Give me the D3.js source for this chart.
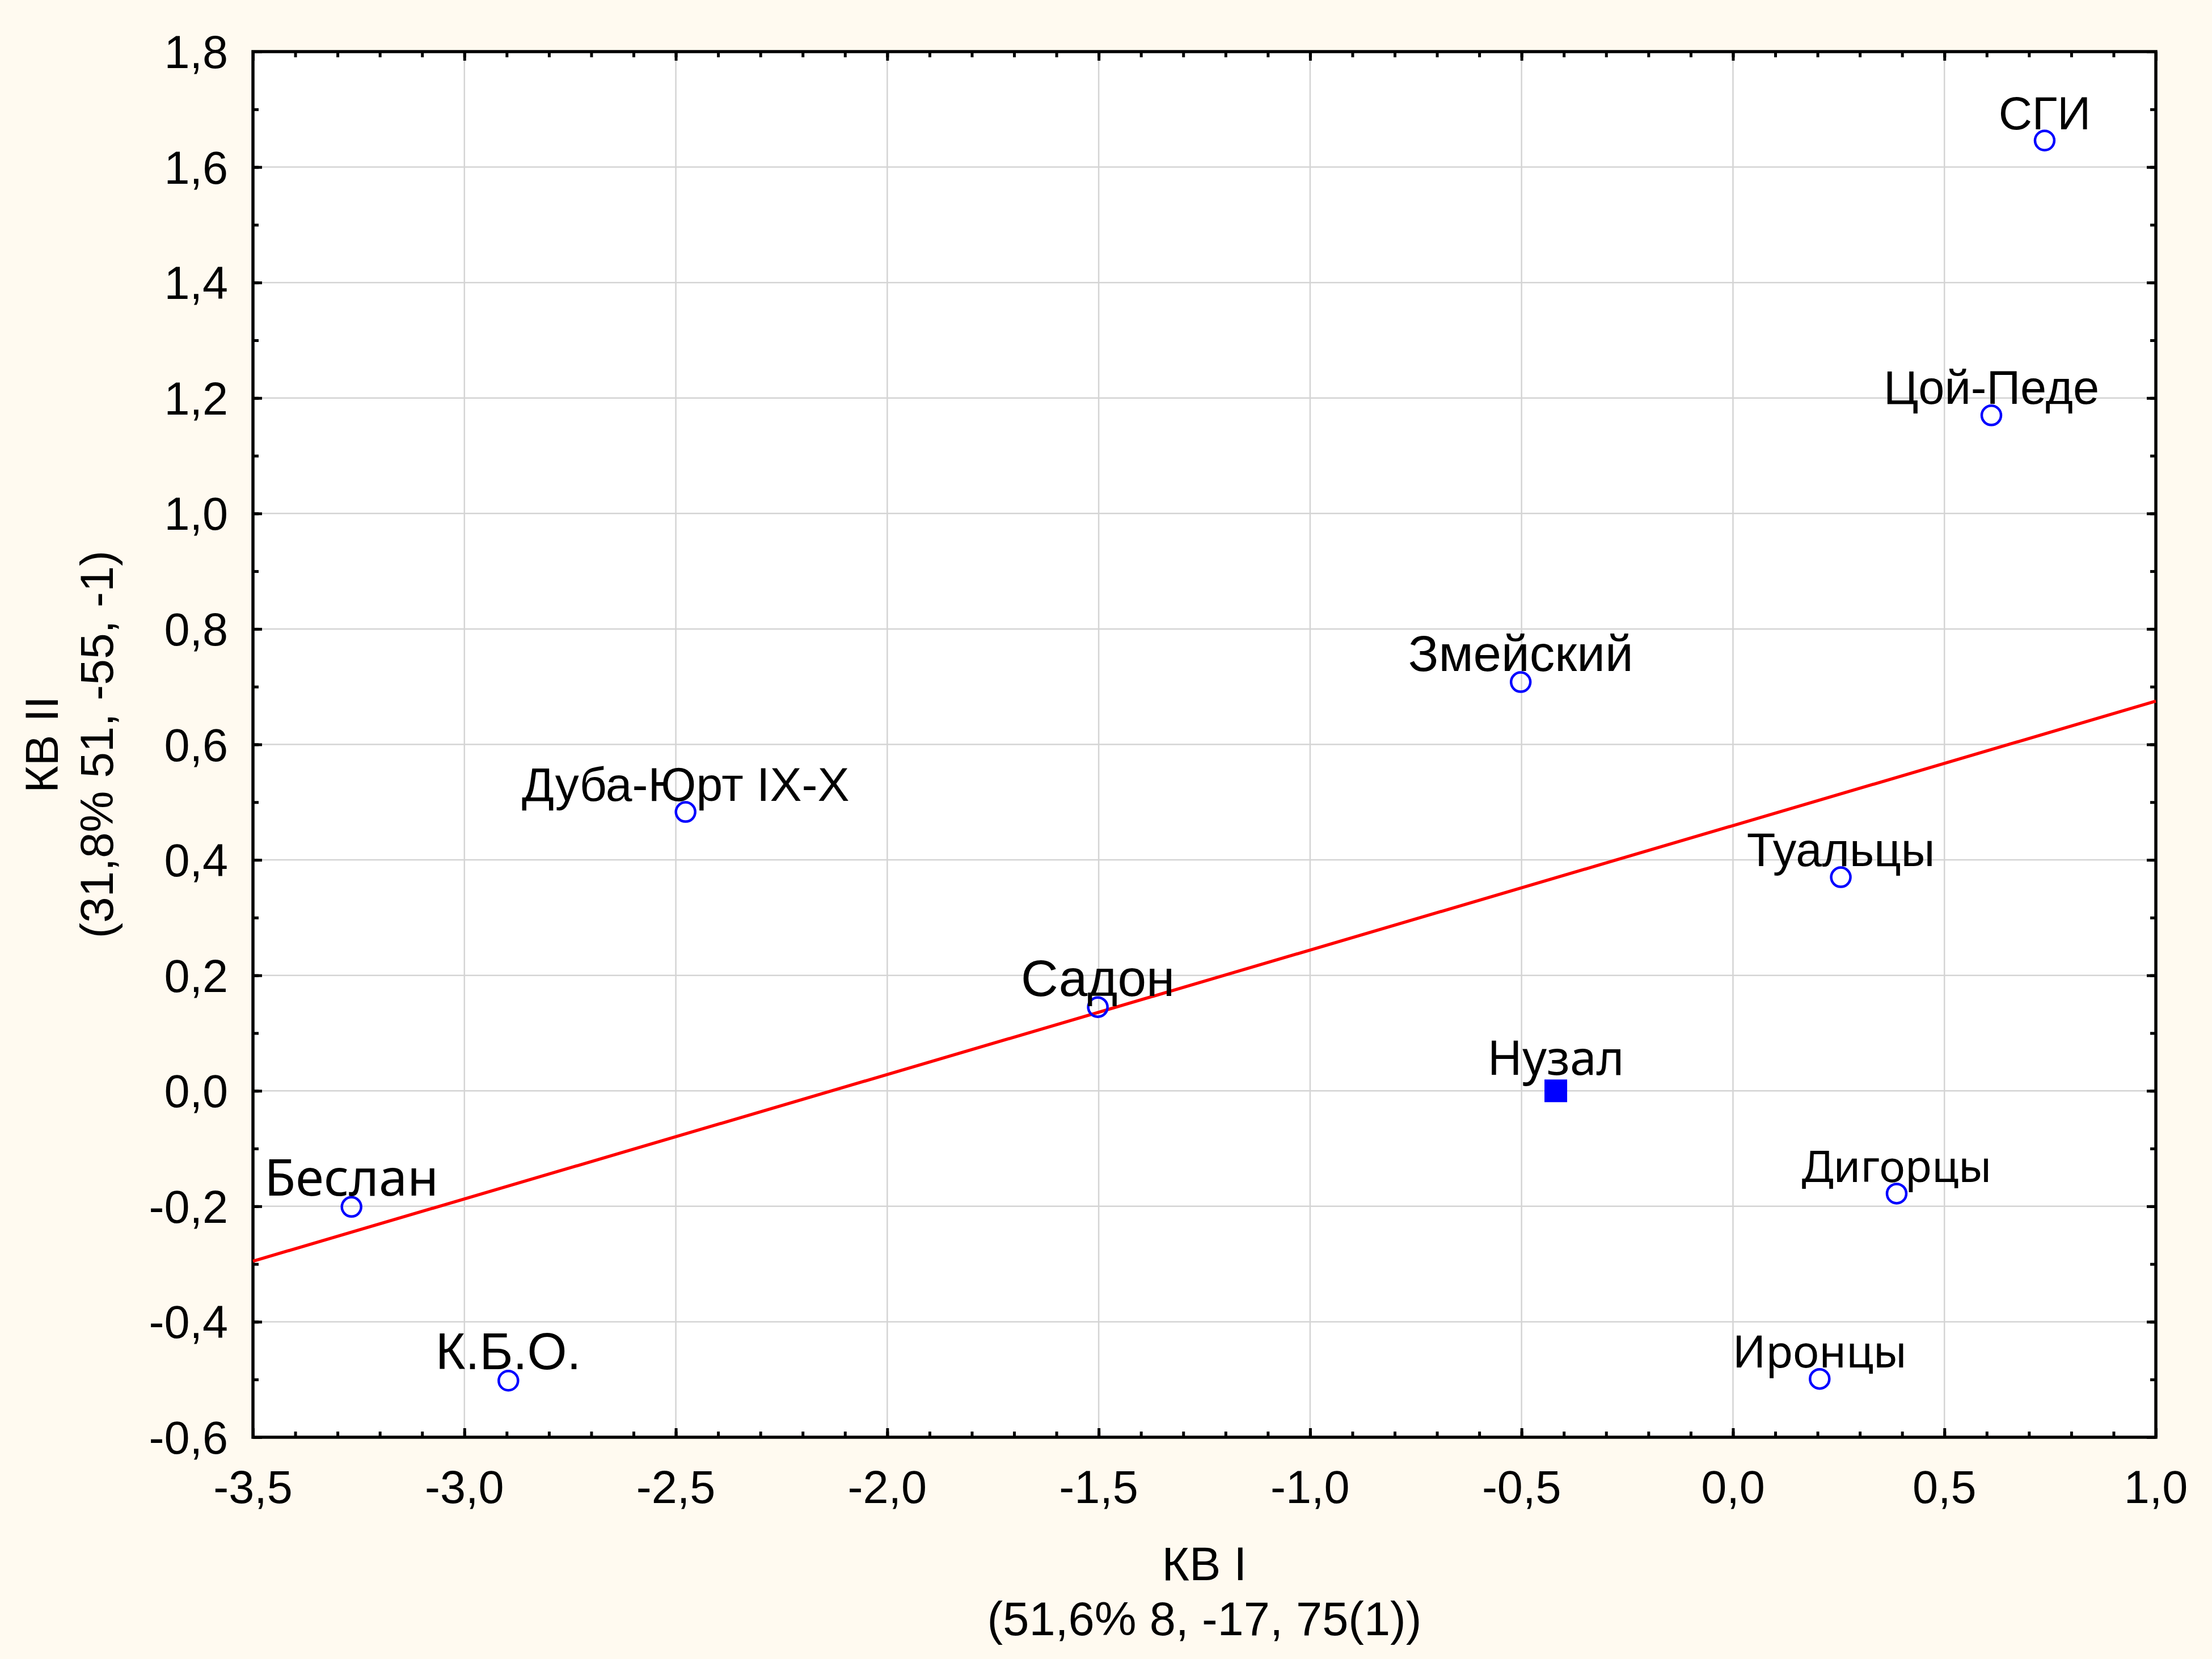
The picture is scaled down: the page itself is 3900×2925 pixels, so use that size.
<!DOCTYPE html>
<html>
<head>
<meta charset="utf-8">
<script src="https://cdn.jsdelivr.net/npm/d3@7"></script>
<style>
  body { margin: 0; background: #fffaf0; }
  svg { display: block; }
</style>
</head>
<body>
<div id="chart"></div>
<script>
// points of the canonical plot
const names = ["СГИ", "Цой-Педе", "Змейский", "Дуба-Юрт IX-X", "Туальцы", "Садон",
               "Нузал", "Беслан", "Дигорцы", "К.Б.О.", "Иронцы"];
const kv1 = [0.737, 0.611, -0.502, -2.477, 0.255, -1.502, -0.419, -3.267, 0.387, -2.896, 0.205];
const kv2 = [1.646, 1.170, 0.708, 0.483, 0.370, 0.145, 0.000, -0.201, -0.178, -0.502, -0.499];
const markers = ["circle", "circle", "circle", "circle", "circle", "circle",
                 "square", "circle", "circle", "circle", "circle"];

// fitted line, read at both ends of the x range
const lineX = [-3.5, 1.0];
const lineY = [-0.295, 0.675];

const xTicks = [-3.5, -3.0, -2.5, -2.0, -1.5, -1.0, -0.5, 0.0, 0.5, 1.0];
const yTicks = [-0.6, -0.4, -0.2, 0.0, 0.2, 0.4, 0.6, 0.8, 1.0, 1.2, 1.4, 1.6, 1.8];
const xTitle = ["КВ I", "(51,6% 8, -17, 75(1))"];
const yTitle = ["КВ II", "(31,8% 51, -55, -1)"];

const W = 3900, H = 2925;
const margin = {top: 91, right: 99, bottom: 391, left: 446};
const pw = W - margin.left - margin.right;
const ph = H - margin.top - margin.bottom;

const arial = "'Liberation Sans', Arial, sans-serif";
const segoe = "'Noto Sans', 'Open Sans', sans-serif";
// the labels in the original were typed in by hand, with mixed faces and sizes
const labelStyle = {
    "СГИ": [arial, 82],
    "Цой-Педе": [arial, 83],
    "Змейский": [arial, 89],
    "Дуба-Юрт IX-X": [arial, 84],
    "Туальцы": [arial, 83],
    "Садон": [arial, 91],
    "Нузал": [segoe, 84],
    "Беслан": [segoe, 90],
    "Дигорцы": [segoe, 77],
    "К.Б.О.": [arial, 90],
    "Иронцы": [segoe, 78]
};

const svg = d3.select("#chart").append("svg")
    .attr("width", W)
    .attr("height", H);

svg.append("rect").attr("width", W).attr("height", H).attr("fill", "#fffaf0");

const g = svg.append("g")
    .attr("transform", "translate(" + margin.left + "," + margin.top + ")");

const x = d3.scaleLinear().domain([xTicks[0], xTicks[xTicks.length - 1]]).range([0, pw]);
const y = d3.scaleLinear().domain([yTicks[0], yTicks[yTicks.length - 1]]).range([ph, 0]);

g.append("rect").attr("width", pw).attr("height", ph).attr("fill", "#ffffff");

const fmt = v => (Math.round(v * 10) / 10).toFixed(1).replace(".", ",");

// grid
g.append("g").selectAll("line")
    .data(xTicks.slice(1, -1))
    .enter().append("line")
    .attr("x1", d => x(d)).attr("x2", d => x(d))
    .attr("y1", 0).attr("y2", ph)
    .attr("stroke", "#d4d4d4").attr("stroke-width", 2.5);
g.append("g").selectAll("line")
    .data(yTicks.slice(1, -1))
    .enter().append("line")
    .attr("x1", 0).attr("x2", pw)
    .attr("y1", d => y(d)).attr("y2", d => y(d))
    .attr("stroke", "#d4d4d4").attr("stroke-width", 2.5);

// minor tick positions (every 0.1)
const xMinor = d3.range(Math.round(xTicks[0] * 10), Math.round(xTicks[xTicks.length - 1] * 10) + 1)
    .map(d => d / 10);
const yMinor = d3.range(Math.round(yTicks[0] * 10), Math.round(yTicks[yTicks.length - 1] * 10) + 1)
    .map(d => d / 10);

function styleAxis(sel) {
    sel.select(".domain").remove();
    sel.selectAll(".tick line").attr("stroke", "#000").attr("stroke-width", 5);
}

// ticks on all four sides, pointing inward
const majorLen = 16, minorLen = 10;
[["bottom", ph], ["top", 0]].forEach(([side, ty]) => {
    const mk = side === "bottom" ? d3.axisBottom : d3.axisTop;
    g.append("g").attr("transform", "translate(0," + ty + ")")
        .call(mk(x).tickValues(xMinor).tickSize(-minorLen).tickFormat(""))
        .call(styleAxis);
    g.append("g").attr("transform", "translate(0," + ty + ")")
        .call(mk(x).tickValues(xTicks).tickSize(-majorLen).tickFormat(""))
        .call(styleAxis);
});
[["left", 0], ["right", pw]].forEach(([side, tx]) => {
    const mk = side === "left" ? d3.axisLeft : d3.axisRight;
    g.append("g").attr("transform", "translate(" + tx + ",0)")
        .call(mk(y).tickValues(yMinor).tickSize(-minorLen).tickFormat(""))
        .call(styleAxis);
    g.append("g").attr("transform", "translate(" + tx + ",0)")
        .call(mk(y).tickValues(yTicks).tickSize(-majorLen).tickFormat(""))
        .call(styleAxis);
});

// tick labels
g.append("g").selectAll("text")
    .data(xTicks)
    .enter().append("text")
    .attr("x", d => x(d))
    .attr("y", ph + 116)
    .attr("text-anchor", "middle")
    .style("font-family", arial)
    .style("font-size", "81px")
    .text(fmt);
g.append("g").selectAll("text")
    .data(yTicks)
    .enter().append("text")
    .attr("x", -44)
    .attr("y", d => y(d) + 29)
    .attr("text-anchor", "end")
    .style("font-family", arial)
    .style("font-size", "81px")
    .text(fmt);

// frame
g.append("rect")
    .attr("width", pw).attr("height", ph)
    .attr("fill", "none")
    .attr("stroke", "#000")
    .attr("stroke-width", 5.5);

// red fitted line
const line = d3.line().x((d, i) => x(lineX[i])).y(d => y(d));
g.append("path")
    .datum(lineY)
    .attr("d", line)
    .attr("fill", "none")
    .attr("stroke", "#ff0000")
    .attr("stroke-width", 5.5);

const pts = names.map((n, i) => ({name: n, x: kv1[i], y: kv2[i], m: markers[i]}));

// markers
g.append("g").selectAll("circle")
    .data(pts.filter(d => d.m === "circle"))
    .enter().append("circle")
    .attr("cx", d => x(d.x))
    .attr("cy", d => y(d.y))
    .attr("r", 17)
    .attr("fill", "none")
    .attr("stroke", "#0000ff")
    .attr("stroke-width", 4.5);
g.append("g").selectAll("rect")
    .data(pts.filter(d => d.m === "square"))
    .enter().append("rect")
    .attr("x", d => x(d.x) - 20)
    .attr("y", d => y(d.y) - 20)
    .attr("width", 40)
    .attr("height", 40)
    .attr("fill", "#0000ff");

// point labels
g.append("g").selectAll("text")
    .data(pts)
    .enter().append("text")
    .attr("x", d => x(d.x))
    .attr("y", d => y(d.y) - (d.m === "square" ? 28 : 20))
    .attr("text-anchor", "middle")
    .style("font-family", d => labelStyle[d.name][0])
    .style("font-size", d => labelStyle[d.name][1] + "px")
    .text(d => d.name);

// axis titles
const xt = svg.append("text")
    .attr("text-anchor", "middle")
    .style("font-family", arial)
    .style("font-size", "83px");
xt.append("tspan").attr("x", margin.left + pw / 2).attr("y", 2786).text(xTitle[0]);
xt.append("tspan").attr("x", margin.left + pw / 2).attr("y", 2883).text(xTitle[1]);

const yt = svg.append("text")
    .attr("text-anchor", "middle")
    .attr("transform", "translate(0," + (margin.top + ph / 2) + ") rotate(-90)")
    .style("font-family", arial)
    .style("font-size", "82px");
yt.append("tspan").attr("x", 0).attr("y", 102).text(yTitle[0]);
yt.append("tspan").attr("x", 0).attr("y", 199).text(yTitle[1]);
</script>
</body>
</html>
